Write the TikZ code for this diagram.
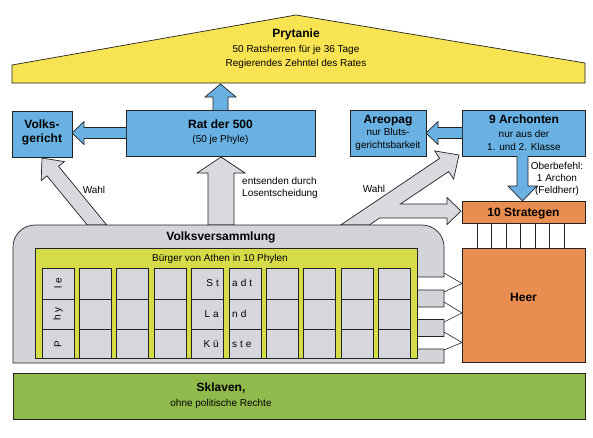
\documentclass[tikz,border=0pt]{standalone}
\usepackage{fontspec}
\setmainfont{Liberation Sans}
\definecolor{roofY}{RGB}{248,228,82}
\definecolor{boxB}{RGB}{104,177,226}
\definecolor{arrG}{RGB}{216,218,224}
\definecolor{vvG}{RGB}{210,212,218}
\definecolor{panelY}{RGB}{214,219,72}
\definecolor{cellG}{RGB}{214,215,220}
\definecolor{orangeS}{RGB}{234,141,80}
\definecolor{greenS}{RGB}{145,186,76}
\definecolor{lineC}{RGB}{35,35,35}
\begin{document}
\begin{tikzpicture}[x=1pt,y=-1pt,
  ln/.style={draw=lineC, line width=0.7pt},
  boxn/.style={ln, inner sep=0, outer sep=0, anchor=north west},
  bluebox/.style={boxn, fill=boxB},
  orbox/.style={boxn, fill=orangeS},
  bluearrow/.style={ln, fill=boxB, line join=miter},
  grayarrow/.style={ln, fill=arrG, line join=miter},
  cell/.style={ln, fill=cellG},
  txt/.style={inner sep=0, anchor=base},
  tb/.style={txt, font=\fontsize{12}{14}\selectfont\bfseries},
  ts/.style={txt, font=\fontsize{10}{12}\selectfont},
]
\useasboundingbox[fill=white] (0,0) rectangle (593,437);

% roof
\draw[ln, fill=roofY] (12,83) -- (12,65) -- (296,15) -- (585,63) -- (585,83) -- cycle;
\node[tb] (pry1) at (296,37) {Prytanie};
\node[ts] (pry2) at (296,52.5) {50 Ratsherren für je 36 Tage};
\node[ts] (pry3) at (296,66.5) {Regierendes Zehntel des Rates};

% blue boxes
\node[bluebox, minimum width=60, minimum height=46] (vg) at (12,111) {};
\node[tb] (vg1) at (42,128) {Volks-};
\node[tb] (vg2) at (42,142) {gericht};

\node[bluebox, minimum width=189, minimum height=46] (rat) at (126,110) {};
\node[tb] (rat1) at (220.5,128) {Rat der 500};
\node[ts] (rat2) at (220.5,142.5) {(50 je Phyle)};

\node[bluebox, minimum width=76, minimum height=46] (areo) at (350,110) {};
\node[tb] (areo1) at (388,123) {Areopag};
\node[ts] (areo2) at (388,135.5) {nur Bluts-};
\node[ts] (areo3) at (388,148.5) {gerichtsbarkeit};

\node[bluebox, minimum width=123, minimum height=46] (arch) at (462,110) {};
\node[tb] (arch1) at (524,123) {9 Archonten};
\node[ts] (arch2) at (524,137.5) {nur aus der};
\node[ts] (arch3) at (524,150.5) {1. und 2. Klasse};

% blue arrows
\draw[bluearrow] (213,110) -- (213,97) -- (205,97) -- (220.5,84) -- (236,97) -- (228,97) -- (228,110);
\draw[bluearrow] (126,127.5) -- (84,127.5) -- (84,121.5) -- (72,133) -- (84,144.5) -- (84,138.5) -- (126,138.5);
\draw[bluearrow] (462,127.5) -- (438,127.5) -- (438,121.5) -- (426,133) -- (438,144.5) -- (438,138.5) -- (462,138.5);
\draw[bluearrow] (517,156) -- (517,186) -- (508,186) -- (522.5,201) -- (537,186) -- (528,186) -- (528,156);

\node[ts] (ob1) at (557,169.5) {Oberbefehl:};
\node[ts] (ob2) at (557,181.5) {1 Archon};
\node[ts] (ob3) at (557,193.5) {(Feldherr)};

% orange boxes
\node[orbox, minimum width=123, minimum height=22] (strat) at (462,201) {};
\node[tb] (strat1) at (523.5,216) {10 Strategen};
\node[orbox, minimum width=123, minimum height=114] (heer) at (462,248) {};
\node[tb] (heer1) at (523.5,301) {Heer};
\foreach \i in {0,...,6} \draw[ln] ({477+14.5*\i},223) -- ({477+14.5*\i},248);

% gray arrows
\draw[grayarrow] (208,225) -- (208,173) -- (197,173) -- (221,157) -- (245,173) -- (234,173) -- (234,225) -- cycle;
\draw[grayarrow] (87.3,225) -- (47.0,175.9) -- (41.2,180.6) -- (42,158) -- (64.4,161.6) -- (58.6,166.3) -- (106.7,225) -- cycle;
\draw[grayarrow] (340.6,225) -- (439.6,158.4) -- (434.6,150.9) -- (459,155) -- (453.6,179.1) -- (448.6,171.6)
  -- (400.4,204) -- (447,204) -- (447,197.5) -- (461,211) -- (447,224.5) -- (447,218) -- (379.6,218) -- (369.3,225) -- cycle;
\node[ts] (wahl1) at (94,193.5) {Wahl};
\node[ts] (wahl2) at (374,192.5) {Wahl};
\node[ts, anchor=base west] (ent1) at (242,184.5) {entsenden durch};
\node[ts, anchor=base west] (ent2) at (242,196.5) {Losentscheidung};

% Volksversammlung
\draw[ln, fill=vvG] (13,363) -- (13,247) .. controls (13,234.9) and (22.9,225) .. (35,225)
  -- (422,225) .. controls (434.1,225) and (444,234.9) .. (444,247)
  -- (444,277) -- (417,277) -- (417,290) -- (444,290) -- (444,307) -- (417,307)
  -- (417,319.5) -- (444,319.5) -- (444,336.5) -- (417,336.5) -- (417,349) -- (444,349)
  -- (444,363) -- cycle;
\node[tb] (vv) at (221,240) {Volksversammlung};
\draw[ln, fill=panelY] (35,248) rectangle (417,358);
\node[ts] (bu) at (220,261.5) {Bürger von Athen in 10 Phylen};
\foreach \i in {0,...,9} {
  \pgfmathsetmacro\xa{42+37.4*\i}
  \draw[cell] (\xa,268) rectangle ({\xa+32},358);
  \draw[ln] (\xa,299) -- ({\xa+32},299);
  \draw[ln] (\xa,329) -- ({\xa+32},329);
}
\node[ts, rotate=90, anchor=center] (ph1) at (58,283) {l\kern3pt e};
\node[ts, rotate=90, anchor=center] (ph2) at (58,314) {h\kern3pt y};
\node[ts, rotate=90, anchor=center] (ph3) at (58,344) {P};
\node[ts, anchor=base east] (c1) at (219,286.5) {S\kern3pt t};
\node[ts, anchor=base east] (c2) at (219,317.5) {L\kern3pt a};
\node[ts, anchor=base east] (c3) at (219,347.5) {K\kern3pt ü};
\node[ts, anchor=base west] (c4) at (232,286.5) {a\kern3pt d\kern3pt t};
\node[ts, anchor=base west] (c5) at (232,317.5) {n\kern3pt d};
\node[ts, anchor=base west] (c6) at (232,347.5) {s\kern3pt t\kern3pt e};

% chevrons to Heer
\draw[ln, line width=0.6pt] (444,273) -- (heer.west |- 0,283.5) -- (444,292);
\draw[ln, line width=0.6pt] (444,302) -- (heer.west |- 0,313) -- (444,322);
\draw[ln, line width=0.6pt] (444,332) -- (heer.west |- 0,342.5) -- (444,350);

% Sklaven
\node[boxn, fill=greenS, minimum width=572, minimum height=46] (skl) at (13,373) {};
\node[tb] (skl1) at (221,391.5) {Sklaven,};
\node[ts] (skl2) at (221,406.5) {ohne politische Rechte};
\end{tikzpicture}
\end{document}
